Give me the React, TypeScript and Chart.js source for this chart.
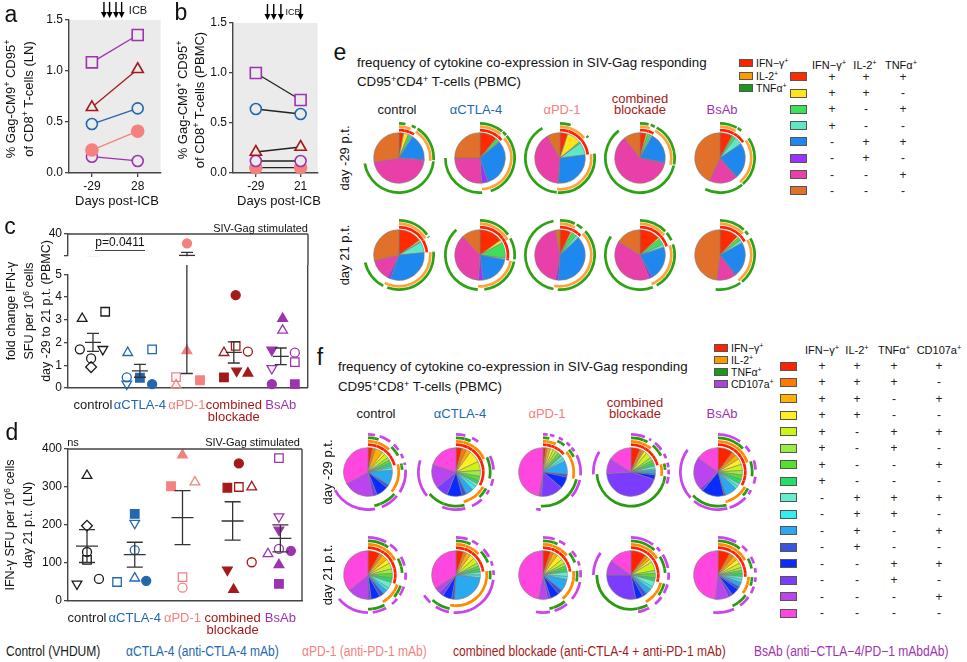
import React, { useEffect, useRef } from 'react';
import { Chart, registerables } from 'chart.js';

Chart.register(...registerables);

const FONT = '"Liberation Sans", Arial, Helvetica, sans-serif';
Chart.defaults.font.family = FONT;
Chart.defaults.color = '#111';

// ---------------- shared groups ----------------
const groupNames = ['control', 'αCTLA-4', 'αPD-1', 'combined blockade', 'BsAb'];
const groupColors = ['#1a1a1a', '#2368ad', '#f58080', '#a41a1a', '#9d33ae'];
const AXIS = '#444';

// ---------------- panel a (LN) ----------------
const aDays = [-29, 28];
const aBsAbSquare = [1.085, 1.353];
const aCombTriangle = [0.644, 1.017];
const aCtlaCircle = [0.48, 0.634];
const aPd1Circle = [0.225, 0.41];
const aBsAbCircle = [0.16, 0.118];
const icbDaysA = [-14, -7, 1, 8];

// ---------------- panel b (PBMC) ----------------
const bDays = [-29, 21];
const bBsAbSquare = [1.0, 0.73];
const bCtlaCircle = [0.64, 0.59];
const bCombTriangle = [0.21, 0.26];
const bBsAbCircle = [0.12, 0.12];
const bPd1Circle = [0.053, 0.053];
const icbDaysB = [-16, -9, -1, 21];
const abTicks = [0, 0.5, 1.0, 1.5];

// ---------------- panel c (fold change, PBMC) ----------------
// marks: c circle, s square, t triangle, v inverted triangle, d diamond; upper case = filled
const cGroupPos = [1, 2, 3, 4, 5];
const cControlVals = [3.05, 3.35, 1.7, 1.7, 1.3, 0.92];
const cControlMarks = ['t', 's', 'c', 'v', 'c', 'd'];
const cControlJit = [-0.23, 0.26, -0.28, 0.21, -0.04, -0.04];
const cCtlaVals = [1.55, 1.7, 0.47, 0.45, 0.18, 0.17];
const cCtlaMarks = ['t', 's', 'c', 'S', 'v', 'C'];
const cCtlaJit = [-0.26, 0.26, -0.28, 0, -0.28, 0.26];
const cPd1Vals = [25, 1.63, 0.48, 0.13, 0.34];
const cPd1Marks = ['C', 'T', 's', 't', 'S'];
const cPd1Jit = [0, 0, -0.23, -0.23, 0.28];
const cCombVals = [1.55, 1.85, 1.6, 4.08, 0.75, 0.65, 0.47];
const cCombMarks = ['t', 's', 'c', 'C', 'V', 'T', 'S'];
const cCombJit = [-0.21, 0.04, 0.3, 0.04, 0.06, 0.3, -0.21];
const cBsabVals = [3.05, 2.53, 1.67, 1.55, 1.14, 0.86, 0.17, 0.17];
const cBsabMarks = ['T', 't', 'V', 'c', 's', 'v', 'C', 'S'];
const cBsabJit = [0.04, 0.04, -0.19, 0.3, 0.3, -0.19, -0.19, 0.3];
const cBreak = 5;
const cUpperTicks = [5, 20, 40];
const cLowerTicks = [0, 1, 2, 3, 4, 5];

// ---------------- panel d (SFU, LN) ----------------
const dGroupPos = [1, 2, 3, 4.05, 5.05];
const dControlVals = [330, 198, 129, 108, 45, 58];
const dControlMarks = ['t', 'd', 'c', 's', 'v', 'c'];
const dControlJit = [0, 0, 0, 0, -0.21, 0.25];
const dCtlaVals = [229, 205, 134, 60, 50, 53];
const dCtlaMarks = ['S', 'v', 'c', 't', 's', 'C'];
const dCtlaJit = [0, 0, 0, 0, -0.37, 0.24];
const dPd1Vals = [384, 302, 313, 63, 35];
const dPd1Marks = ['T', 'S', 't', 's', 'c'];
const dPd1Jit = [0, -0.24, 0.26, 0, 0];
const dCombVals = [362, 298, 300, 300, 82, 102, 30];
const dCombMarks = ['C', 'S', 's', 't', 'V', 'c', 'T'];
const dCombJit = [0.13, -0.11, 0.13, 0.4, -0.11, 0.4, 0.02];
const dBsabVals = [376, 222, 187, 137, 132, 124, 95, 45];
const dBsabMarks = ['s', 'v', 'V', 'c', 'C', 't', 'T', 'S'];
const dBsabJit = [-0.03, -0.03, -0.03, -0.03, 0.22, -0.26, -0.03, -0.03];
const dTicks = [0, 100, 200, 300, 400];

// ---------------- panel e (CD4, 8 combinations) ----------------
const eColors = ['#ff2a00', '#ffe41c', '#3ee05a', '#5fe8c8', '#1f88ee', '#9a33ff', '#e83fa8', '#e0702a'];
const eIfn = [1, 1, 1, 1, 0, 0, 0, 0];
const eIl2 = [1, 1, 0, 0, 1, 1, 0, 0];
const eTnf = [1, 0, 1, 0, 1, 0, 1, 0];
const ePreControl = [3, 3, 2, 1, 17, 0.5, 46, 27.5];
const ePreCtla = [11, 0.5, 2, 0.5, 31, 4, 26, 25];
const ePrePd1 = [5, 9, 1, 8, 28, 0.5, 40, 8.5];
const ePreComb = [4, 1, 2, 1, 20, 0.5, 61, 10.5];
const ePreBsab = [8, 0.5, 2, 5, 23, 0.5, 18, 43];
const ePostControl = [15, 1, 0.5, 7, 32, 2, 14, 28.5];
const ePostCtla = [15, 2, 10, 1, 20, 3, 37, 12];
const ePostPd1 = [7, 1, 3, 2, 38, 2, 44, 3];
const ePostComb = [13, 1, 4, 2, 22, 2, 40, 16];
const ePostBsab = [12, 1, 2, 2, 22, 1, 12, 48];

// ---------------- panel f (CD8, 16 combinations) ----------------
const fColors = ['#ff2200', '#ff7a00', '#ffb000', '#ffee22', '#ccf514', '#99ee44', '#55e030', '#22dd66',
  '#66eecc', '#33eeee', '#2aa8f0', '#3a55dd', '#0a2cff', '#7c3cff', '#bb44ee', '#ff47e0'];
const fIfn = [1, 1, 1, 1, 1, 1, 1, 1, 0, 0, 0, 0, 0, 0, 0, 0];
const fIl2 = [1, 1, 1, 1, 0, 0, 0, 0, 1, 1, 1, 1, 0, 0, 0, 0];
const fTnf = [1, 1, 0, 0, 1, 1, 0, 0, 1, 1, 0, 0, 1, 1, 0, 0];
const fCd107 = [1, 0, 1, 0, 1, 0, 1, 0, 1, 0, 1, 0, 1, 0, 1, 0];
const fPreControl = [3, 2, 5, 2, 3, 2, 2, 2, 1, 2, 10, 2, 8, 3, 20, 33];
const fPreCtla = [4, 3, 3, 8, 6, 4, 3, 2, 2, 3, 5, 3, 10, 8, 16, 20];
const fPrePd1 = [2, 1, 2, 2, 2, 2, 2, 1, 2, 2, 9, 2, 8, 15, 2, 48];
const fPreComb = [6, 2, 1, 2, 4, 2, 2, 2, 2, 1, 2, 1, 3, 44, 10, 16];
const fPreBsab = [10, 3, 3, 4, 4, 3, 3, 3, 2, 2, 8, 1, 15, 2, 22, 15];
const fPostControl = [8, 2, 4, 3, 4, 3, 3, 3, 4, 2, 3, 3, 6, 2, 14, 36];
const fPostCtla = [5, 2, 3, 3, 4, 2, 2, 2, 2, 2, 24, 2, 6, 3, 4, 34];
const fPostPd1 = [5, 2, 3, 4, 3, 2, 2, 2, 3, 2, 8, 3, 6, 2, 6, 47];
const fPostComb = [10, 2, 2, 2, 6, 2, 3, 2, 4, 2, 4, 3, 5, 28, 10, 15];
const fPostBsab = [8, 3, 3, 3, 3, 2, 2, 2, 2, 2, 3, 2, 5, 3, 9, 48];

// ---------------- helpers ----------------
const baseOptions = (extra: any) => ({
  responsive: false,
  animation: false,
  devicePixelRatio: 1,
  events: [],
  plugins: { legend: { display: false }, tooltip: { enabled: false } },
  ...extra,
});

const yTickGrid = { display: true, drawOnChartArea: false, drawTicks: true, tickLength: 4, color: AXIS, lineWidth: 1.3 };
const axisBorder = { display: true, color: AXIS, width: 1.4 };

function markStyle(m: string) {
  const l = m.toLowerCase();
  if (l === 'c') return 'circle';
  if (l === 's') return 'rect';
  if (l === 'd') return 'rectRot';
  return 'triangle';
}
const MARK_R: Record<string, number> = { c: 4.5, s: 6, t: 5.6, v: 5.6, d: 5.4 };

function scatterDs(pos: number, vals: number[], marks: string[], jit: number[], color: string, keep: (v: number) => boolean, clip: any) {
  const idx = vals.map((_, i) => i).filter((i) => keep(vals[i]));
  return {
    data: idx.map((i) => ({ x: pos + jit[i], y: vals[i] })),
    pointStyle: idx.map((i) => markStyle(marks[i])),
    pointRotation: idx.map((i) => (marks[i].toLowerCase() === 'v' ? 180 : 0)),
    pointRadius: idx.map((i) => MARK_R[marks[i].toLowerCase()]),
    pointBackgroundColor: idx.map((i) => (marks[i] !== marks[i].toLowerCase() ? color : 'rgba(0,0,0,0)')),
    pointBorderColor: color,
    pointBorderWidth: 1.3,
    showLine: false,
    clip,
  };
}

function meanSem(v: number[]) {
  const n = v.length;
  const m = v.reduce((a, b) => a + b, 0) / n;
  const sd = Math.sqrt(v.reduce((a, b) => a + (b - m) * (b - m), 0) / (n - 1));
  return [m, sd / Math.sqrt(n)];
}

function errPlugin(positions: number[], groups: number[][], meanHalf: number, capHalf: number, topFromCanvas: boolean) {
  return {
    id: 'errbars',
    afterDatasetsDraw(chart: any) {
      const { ctx, chartArea: a, scales } = chart;
      const x = scales.x;
      const y = scales.y;
      ctx.save();
      ctx.beginPath();
      const top = topFromCanvas ? 0 : a.top;
      ctx.rect(a.left, top, a.right - a.left, a.bottom - top + 0.5);
      ctx.clip();
      ctx.strokeStyle = '#333';
      ctx.lineWidth = 1.3;
      groups.forEach((vals, i) => {
        const [m, se] = meanSem(vals);
        const px = x.getPixelForValue(positions[i]);
        const yM = y.getPixelForValue(m);
        const yH = y.getPixelForValue(m + se);
        const yL = y.getPixelForValue(m - se);
        ctx.beginPath();
        ctx.moveTo(px, yL);
        ctx.lineTo(px, yH);
        ctx.moveTo(px - capHalf, yH);
        ctx.lineTo(px + capHalf, yH);
        ctx.moveTo(px - capHalf, yL);
        ctx.lineTo(px + capHalf, yL);
        ctx.moveTo(px - meanHalf, yM);
        ctx.lineTo(px + meanHalf, yM);
        ctx.stroke();
      });
      ctx.restore();
    },
  };
}

function framePlugin(opts: { top?: boolean; rightFromCanvasTop?: boolean; rightToCanvasBottom?: boolean }) {
  return {
    id: 'frame',
    afterDraw(chart: any) {
      const { ctx, chartArea: a, height } = chart;
      ctx.save();
      ctx.strokeStyle = AXIS;
      ctx.lineWidth = 1.4;
      ctx.beginPath();
      if (opts.top) {
        ctx.moveTo(a.left, a.top);
        ctx.lineTo(a.right, a.top);
      }
      const y0 = opts.rightFromCanvasTop ? 0 : a.top;
      const y1 = opts.rightToCanvasBottom ? height : a.bottom;
      ctx.moveTo(a.right, y0);
      ctx.lineTo(a.right, y1);
      ctx.stroke();
      ctx.restore();
    },
  };
}

const bgPlugin = {
  id: 'graybg',
  beforeDraw(chart: any) {
    const { ctx, chartArea: a } = chart;
    ctx.save();
    ctx.fillStyle = '#ebebeb';
    ctx.fillRect(a.left, a.top, a.right - a.left, a.bottom - a.top);
    ctx.restore();
  },
};

function arrowPlugin(days: number[], y0: number, y1: number) {
  return {
    id: 'icb',
    afterDraw(chart: any) {
      const { ctx, scales } = chart;
      ctx.save();
      ctx.strokeStyle = '#000';
      ctx.fillStyle = '#000';
      ctx.lineWidth = 1.4;
      days.forEach((d) => {
        const px = scales.x.getPixelForValue(d);
        ctx.beginPath();
        ctx.moveTo(px, y0);
        ctx.lineTo(px, y1 - 5);
        ctx.stroke();
        ctx.beginPath();
        ctx.moveTo(px - 3, y1 - 6);
        ctx.lineTo(px + 3, y1 - 6);
        ctx.lineTo(px, y1);
        ctx.closePath();
        ctx.fill();
      });
      ctx.restore();
    },
  };
}

type Series = { vals: number[]; color: string; style: string; r: number; filled?: boolean };

function abConfig(days: number[], series: Series[], xMin: number, xMax: number, icb: number[], padTop: number, padRight: number, yAxisW: number, blackLines: boolean, arrowY: [number, number]) {
  return {
    type: 'line',
    data: {
      datasets: series.map((s) => ({
        data: s.vals.map((v, i) => ({ x: days[i], y: v })),
        borderColor: blackLines ? '#222' : s.color,
        borderWidth: 1.3,
        pointStyle: s.style,
        pointRadius: s.r,
        pointBackgroundColor: s.filled ? s.color : '#ebebeb',
        pointBorderColor: s.color,
        pointBorderWidth: 1.6,
        clip: false,
      })),
    },
    options: baseOptions({
      layout: { padding: { top: padTop, right: padRight, left: 0, bottom: 0 } },
      scales: {
        x: {
          type: 'linear', min: xMin, max: xMax,
          afterBuildTicks: (s: any) => { s.ticks = days.map((v) => ({ value: v })); },
          afterFit: (s: any) => { s.height = 22; },
          ticks: { font: { size: 12 }, padding: 2, callback: (v: any) => String(v), color: '#111' },
          grid: yTickGrid, border: axisBorder,
        },
        y: {
          min: 0, max: 1.5,
          afterBuildTicks: (s: any) => { s.ticks = abTicks.map((v) => ({ value: v })); },
          afterFit: (s: any) => { s.width = yAxisW; },
          ticks: { font: { size: 12 }, padding: 2, callback: (v: any) => Number(v).toFixed(1), color: '#111' },
          grid: yTickGrid, border: axisBorder,
        },
      },
    }),
    plugins: [bgPlugin, arrowPlugin(icb, arrowY[0], arrowY[1])],
  };
}

const PURPLE = groupColors[4];
const makeA = (c: HTMLCanvasElement) => new Chart(c, abConfig(aDays, [
  { vals: aBsAbSquare, color: PURPLE, style: 'rect', r: 7.8 },
  { vals: aCombTriangle, color: groupColors[3], style: 'triangle', r: 6.5 },
  { vals: aCtlaCircle, color: groupColors[1], style: 'circle', r: 5.5 },
  { vals: aPd1Circle, color: groupColors[2], style: 'circle', r: 6, filled: true },
  { vals: aBsAbCircle, color: PURPLE, style: 'circle', r: 5.5 },
], -57.5, 56.5, icbDaysA, 20, 4.4, 69, false, [2, 18]) as any);

const makeB = (c: HTMLCanvasElement) => new Chart(c, abConfig(bDays, [
  { vals: bBsAbSquare, color: PURPLE, style: 'rect', r: 7.8 },
  { vals: bCtlaCircle, color: groupColors[1], style: 'circle', r: 5.5 },
  { vals: bCombTriangle, color: groupColors[3], style: 'triangle', r: 6.5 },
  { vals: bBsAbCircle, color: PURPLE, style: 'circle', r: 5.5 },
  { vals: bPd1Circle, color: groupColors[2], style: 'circle', r: 6, filled: true },
], -54.5, 40, icbDaysB, 23, 5, 63, true, [4, 20]) as any);

const cSets = [
  [cControlVals, cControlMarks, cControlJit],
  [cCtlaVals, cCtlaMarks, cCtlaJit],
  [cPd1Vals, cPd1Marks, cPd1Jit],
  [cCombVals, cCombMarks, cCombJit],
  [cBsabVals, cBsabMarks, cBsabJit],
] as [number[], string[], number[]][];
const dSets = [
  [dControlVals, dControlMarks, dControlJit],
  [dCtlaVals, dCtlaMarks, dCtlaJit],
  [dPd1Vals, dPd1Marks, dPd1Jit],
  [dCombVals, dCombMarks, dCombJit],
  [dBsabVals, dBsabMarks, dBsabJit],
] as [number[], string[], number[]][];

const C_XMIN = 0.468, C_XMAX = 5.574;
const D_XMIN = 0.602, D_XMAX = 5.503;

const groupLabel = (i: number) => (groupNames[i].includes(' ') ? groupNames[i].split(' ') : groupNames[i]);

function catAxis(pos: number[], min: number, max: number, h: number) {
  return {
    type: 'linear', min, max,
    afterBuildTicks: (s: any) => { s.ticks = pos.map((v) => ({ value: v })); },
    afterFit: (s: any) => { s.height = h; },
    ticks: {
      autoSkip: false, maxRotation: 0, minRotation: 0, padding: 3,
      font: { size: 13, lineHeight: 0.95 }, color: (ctx: any) => groupColors[ctx.index] || '#111',
      callback: (_v: any, i: number) => groupLabel(i),
    },
    grid: { display: false },
    border: axisBorder,
  };
}

const makeCUpper = (c: HTMLCanvasElement) => new Chart(c, {
  type: 'scatter',
  data: { datasets: cSets.map(([v, m, j], i) => scatterDs(cGroupPos[i], v, m, j, groupColors[i], (x) => x > cBreak, { left: 20, right: 20, top: 10, bottom: 0 })) },
  options: baseOptions({
    layout: { padding: { top: 12, right: 7, left: 0, bottom: 0 } },
    scales: {
      x: { type: 'linear', min: C_XMIN, max: C_XMAX, display: false },
      y: {
        min: cBreak, max: 40,
        afterBuildTicks: (s: any) => { s.ticks = cUpperTicks.map((v) => ({ value: v })); },
        afterFit: (s: any) => { s.width = 68; },
        ticks: { font: { size: 12 }, padding: 2, callback: (v: any) => (v === cBreak ? '' : String(v)), color: '#111' },
        grid: yTickGrid, border: axisBorder,
      },
    },
  }),
  plugins: [errPlugin(cGroupPos, cSets.map((s) => s[0]), 8, 6, false), framePlugin({ top: true, rightToCanvasBottom: true })],
} as any);

const makeCLower = (c: HTMLCanvasElement) => new Chart(c, {
  type: 'scatter',
  data: { datasets: cSets.map(([v, m, j], i) => scatterDs(cGroupPos[i], v, m, j, groupColors[i], (x) => x <= cBreak, { left: 20, right: 20, top: 0, bottom: 10 })) },
  options: baseOptions({
    layout: { padding: { top: 7, right: 7, left: 0, bottom: 0 } },
    scales: {
      x: catAxis(cGroupPos, C_XMIN, C_XMAX, 37),
      y: {
        min: 0, max: 5,
        afterBuildTicks: (s: any) => { s.ticks = cLowerTicks.map((v) => ({ value: v })); },
        afterFit: (s: any) => { s.width = 68; },
        ticks: { font: { size: 12 }, padding: 2, color: '#111' },
        grid: yTickGrid, border: axisBorder,
      },
    },
  }),
  plugins: [errPlugin(cGroupPos, cSets.map((s) => s[0]), 8, 6, true), framePlugin({ rightFromCanvasTop: true })],
} as any);

const makeD = (c: HTMLCanvasElement) => new Chart(c, {
  type: 'scatter',
  data: { datasets: dSets.map(([v, m, j], i) => scatterDs(dGroupPos[i], v, m, j, groupColors[i], () => true, { left: 20, right: 20, top: 10, bottom: 10 })) },
  options: baseOptions({
    layout: { padding: { top: 12, right: 8, left: 0, bottom: 0 } },
    scales: {
      x: catAxis(dGroupPos, D_XMIN, D_XMAX, 41),
      y: {
        min: 0, max: 400,
        afterBuildTicks: (s: any) => { s.ticks = dTicks.map((v) => ({ value: v })); },
        afterFit: (s: any) => { s.width = 68; },
        ticks: { font: { size: 12 }, padding: 2, color: '#111' },
        grid: yTickGrid, border: axisBorder,
      },
    },
  }),
  plugins: [errPlugin(dGroupPos, dSets.map((s) => s[0]), 11, 8, false), framePlugin({ top: true })],
} as any);

// ---------------- pies ----------------
type Ring = { flags: number[]; color: string };
const CLEAR = 'rgba(0,0,0,0)';

function pieTotal(pieR: number, innerGap: number, ringW: number, ringGap: number, n: number) {
  return pieR + innerGap + n * ringW + (n - 1) * ringGap;
}

function makePie(values: number[], colors: string[], rings: Ring[], pieR: number, innerGap: number, ringW: number, ringGap: number) {
  return (c: HTMLCanvasElement) => {
    const datasets: any[] = [];
    const outerFirst = [...rings].reverse();
    outerFirst.forEach((r, i) => {
      if (i > 0) datasets.push({ data: values, backgroundColor: CLEAR, borderWidth: 0, weight: ringGap, hoverOffset: 0 });
      datasets.push({
        data: values,
        backgroundColor: values.map((_, j) => (r.flags[j] ? r.color : CLEAR)),
        borderWidth: 0, weight: ringW, hoverOffset: 0,
      });
    });
    datasets.push({ data: values, backgroundColor: CLEAR, borderWidth: 0, weight: innerGap, hoverOffset: 0 });
    datasets.push({ data: values, backgroundColor: colors, borderColor: '#7d7d7d', borderWidth: 0.6, weight: pieR, hoverOffset: 0 });
    return new Chart(c, { type: 'pie', data: { datasets }, options: baseOptions({ layout: { padding: 0 } }) } as any);
  };
}

const eRings: Ring[] = [
  { flags: eIfn, color: '#ff2200' },
  { flags: eIl2, color: '#ffa23a' },
  { flags: eTnf, color: '#2ca312' },
];
const fRings: Ring[] = [
  { flags: fIfn, color: '#ff2200' },
  { flags: fIl2, color: '#ff8a00' },
  { flags: fTnf, color: '#2a9a10' },
  { flags: fCd107, color: '#cc44ee' },
];
const E_GEOM = [25, 1.3, 2.7, 0.6] as const;
const F_GEOM = [24, 1.5, 2.7, 0.7] as const;

const ePies = [
  [ePreControl, ePreCtla, ePrePd1, ePreComb, ePreBsab],
  [ePostControl, ePostCtla, ePostPd1, ePostComb, ePostBsab],
];
const fPies = [
  [fPreControl, fPreCtla, fPrePd1, fPreComb, fPreBsab],
  [fPostControl, fPostCtla, fPostPd1, fPostComb, fPostBsab],
];
const ePieX = [399, 480, 560, 640, 720];
const ePieY = [158, 255];
const fPieX = [368, 456, 543, 631, 718];
const fPieY = [472, 575];

// ---------------- components ----------------
function ChartBox({ x, y, w, h, make }: { x: number; y: number; w: number; h: number; make: (c: HTMLCanvasElement) => Chart }) {
  const ref = useRef<HTMLCanvasElement>(null);
  useEffect(() => {
    const ch = make(ref.current as HTMLCanvasElement);
    return () => ch.destroy();
  }, []);
  return <canvas ref={ref} width={w} height={h} style={{ position: 'absolute', left: x, top: y, width: w, height: h }} />;
}

function Txt({ x, y, size = 12, color = '#111', rot = 0, align = 'center', children, style }: any) {
  const tx = align === 'center' ? '-50%' : align === 'right' ? '-100%' : '0';
  return (
    <div style={{
      position: 'absolute', left: x, top: y, fontSize: size, color, whiteSpace: 'nowrap', lineHeight: 1,
      transform: `translate(${tx}, -50%)${rot ? ` rotate(${rot}deg)` : ''}`, ...style,
    }}>{children}</div>
  );
}

const Sup = ({ children }: any) => <sup style={{ fontSize: '0.68em', verticalAlign: '0.5em', lineHeight: 0 }}>{children}</sup>;

function Swatch({ x, y, w, h, color }: any) {
  return <div style={{ position: 'absolute', left: x, top: y - h / 2, width: w, height: h, background: color, border: '1px solid #555', boxSizing: 'border-box' }} />;
}

function SignTable({ colors, flags, colX, y0, dy, swX }: any) {
  return (
    <>
      {colors.map((c: string, i: number) => (
        <React.Fragment key={i}>
          <Swatch x={swX} y={y0 + i * dy} w={17} h={9} color={c} />
          {flags.map((f: number[], j: number) => (
            <Txt key={j} x={colX[j]} y={y0 + i * dy} size={12} color="#222">{f[i] ? '+' : '-'}</Txt>
          ))}
        </React.Fragment>
      ))}
    </>
  );
}

function GroupHeaders({ xs, y, size = 13 }: any) {
  return (
    <>
      {groupNames.map((g, i) =>
        g.includes(' ') ? (
          <React.Fragment key={i}>
            <Txt x={xs[i]} y={y - 11} size={size} color={groupColors[i]}>{g.split(' ')[0]}</Txt>
            <Txt x={xs[i]} y={y} size={size} color={groupColors[i]}>{g.split(' ')[1]}</Txt>
          </React.Fragment>
        ) : (
          <Txt key={i} x={xs[i]} y={y} size={size} color={groupColors[i]}>{g}</Txt>
        ),
      )}
    </>
  );
}

export default function App() {
  const eTot = pieTotal(E_GEOM[0], E_GEOM[1], E_GEOM[2], E_GEOM[3], 3);
  const fTot = pieTotal(F_GEOM[0], F_GEOM[1], F_GEOM[2], F_GEOM[3], 4);
  const eS = Math.round(2 * eTot + 1);
  const fS = Math.round(2 * fTot + 1);
  return (
    <div style={{ position: 'relative', width: 967, height: 662, background: '#fff', fontFamily: FONT, color: '#111', overflow: 'hidden' }}>
      <style>{'body{margin:0;}'}</style>

      {/* charts */}
      <ChartBox x={0} y={0} w={170} h={195} make={makeA} />
      <ChartBox x={170} y={0} w={157} h={195} make={makeB} />
      <ChartBox x={0} y={222} w={315} h={43} make={makeCUpper} />
      <ChartBox x={0} y={265} w={315} h={160} make={makeCLower} />
      <ChartBox x={0} y={437} w={310} h={205} make={makeD} />
      {ePies.map((row, r) => row.map((vals, i) => (
        <ChartBox key={`e${r}${i}`} x={ePieX[i] - eS / 2} y={ePieY[r] - eS / 2} w={eS} h={eS}
          make={makePie(vals, eColors, eRings, E_GEOM[0], E_GEOM[1], E_GEOM[2], E_GEOM[3])} />
      )))}
      {fPies.map((row, r) => row.map((vals, i) => (
        <ChartBox key={`f${r}${i}`} x={fPieX[i] - fS / 2} y={fPieY[r] - fS / 2} w={fS} h={fS}
          make={makePie(vals, fColors, fRings, F_GEOM[0], F_GEOM[1], F_GEOM[2], F_GEOM[3])} />
      )))}

      {/* panel letters */}
      <Txt x={11} y={14} size={23}>a</Txt>
      <Txt x={181} y={12} size={23}>b</Txt>
      <Txt x={10} y={226} size={23}>c</Txt>
      <Txt x={12} y={432} size={23}>d</Txt>
      <Txt x={340} y={52} size={23}>e</Txt>
      <Txt x={320} y={357} size={23}>f</Txt>

      {/* panel a/b texts */}
      <Txt x={138} y={10} size={11}>ICB</Txt>
      <Txt x={293} y={12} size={9}>ICB</Txt>
      <Txt x={10} y={99} size={13} rot={-90}>% Gag-CM9<Sup>+</Sup> CD95<Sup>+</Sup></Txt>
      <Txt x={28} y={99} size={13} rot={-90}>of CD8<Sup>+</Sup> T-cells (LN)</Txt>
      <Txt x={182} y={100} size={13} rot={-90}>% Gag-CM9<Sup>+</Sup> CD95<Sup>+</Sup></Txt>
      <Txt x={199} y={100} size={13} rot={-90}>of CD8<Sup>+</Sup> T-cells (PBMC)</Txt>
      <Txt x={117} y={200} size={13}>Days post-ICB</Txt>
      <Txt x={279} y={200} size={13}>Days post-ICB</Txt>

      {/* panel c texts */}
      <Txt x={308} y={228} size={11} align="right">SIV-Gag stimulated</Txt>
      <div style={{ position: 'absolute', left: 95, top: 249.5, width: 50, height: 1.5, background: '#444' }} />
      <Txt x={120} y={242} size={12}>p=0.0411</Txt>
      <Txt x={11} y={311} size={12.5} rot={-90}>fold change IFN-γ</Txt>
      <Txt x={29} y={311} size={12.5} rot={-90}>SFU per 10<Sup>6</Sup> cells</Txt>
      <Txt x={46} y={311} size={12.5} rot={-90}>day -29 to 21 p.t. (PBMC)</Txt>

      {/* panel d texts */}
      <Txt x={73} y={442} size={11}>ns</Txt>
      <Txt x={300} y={442} size={11} align="right">SIV-Gag stimulated</Txt>
      <Txt x={10} y={525} size={12.5} rot={-90}>IFN-γ SFU per 10<Sup>6</Sup> cells</Txt>
      <Txt x={28} y={525} size={12.5} rot={-90}>day 21 p.t. (LN)</Txt>

      {/* panel e texts */}
      <Txt x={357} y={63} size={13.3} align="left">frequency of cytokine co-expression in SIV-Gag responding</Txt>
      <Txt x={357} y={82} size={13.3} align="left">CD95<Sup>+</Sup>CD4<Sup>+</Sup> T-cells (PBMC)</Txt>
      <GroupHeaders xs={[397, 476, 562, 640, 722]} y={109} />
      <Txt x={344} y={158} size={13} rot={-90}>day -29 p.t.</Txt>
      <Txt x={344} y={255} size={13} rot={-90}>day 21 p.t.</Txt>
      <Swatch x={739} y={63} w={14} h={8} color="#ff2200" />
      <Swatch x={739} y={75.5} w={14} h={8} color="#ff9900" />
      <Swatch x={739} y={88} w={14} h={8} color="#1a991a" />
      <Txt x={756} y={63} size={10.5} align="left">IFN−γ<Sup>+</Sup></Txt>
      <Txt x={756} y={75.5} size={10.5} align="left">IL-2<Sup>+</Sup></Txt>
      <Txt x={756} y={88} size={10.5} align="left">TNFα<Sup>+</Sup></Txt>
      <Txt x={829} y={65} size={11}>IFN−γ<Sup>+</Sup></Txt>
      <Txt x={865} y={65} size={11}>IL-2<Sup>+</Sup></Txt>
      <Txt x={901} y={65} size={11}>TNFα<Sup>+</Sup></Txt>
      <SignTable colors={eColors} flags={[eIfn, eIl2, eTnf]} colX={[832, 866, 903]} y0={76.7} dy={16.3} swX={790} />

      {/* panel f texts */}
      <Txt x={338} y={367} size={13.3} align="left">frequency of cytokine co-expression in SIV-Gag responding</Txt>
      <Txt x={338} y={387} size={13.3} align="left">CD95<Sup>+</Sup>CD8<Sup>+</Sup> T-cells (PBMC)</Txt>
      <GroupHeaders xs={[376, 460, 547, 635, 722]} y={413} />
      <Txt x={327} y={472} size={13} rot={-90}>day -29 p.t.</Txt>
      <Txt x={327} y={575} size={13} rot={-90}>day 21 p.t.</Txt>
      <Swatch x={714} y={348} w={14} h={8} color="#ff2200" />
      <Swatch x={714} y={360} w={14} h={8} color="#ff9900" />
      <Swatch x={714} y={372} w={14} h={8} color="#1a991a" />
      <Swatch x={714} y={384} w={14} h={8} color="#aa44dd" />
      <Txt x={731} y={348} size={10.5} align="left">IFN−γ<Sup>+</Sup></Txt>
      <Txt x={731} y={360} size={10.5} align="left">IL-2<Sup>+</Sup></Txt>
      <Txt x={731} y={372} size={10.5} align="left">TNFα<Sup>+</Sup></Txt>
      <Txt x={731} y={384} size={10.5} align="left">CD107a<Sup>+</Sup></Txt>
      <Txt x={822} y={350} size={11}>IFN−γ<Sup>+</Sup></Txt>
      <Txt x={857} y={350} size={11}>IL-2<Sup>+</Sup></Txt>
      <Txt x={894} y={350} size={11}>TNFα<Sup>+</Sup></Txt>
      <Txt x={939} y={350} size={11}>CD107a<Sup>+</Sup></Txt>
      <SignTable colors={fColors} flags={[fIfn, fIl2, fTnf, fCd107]} colX={[822, 857, 894, 939]} y0={366} dy={16.47} swX={780} />

      {/* bottom legend */}
      {[
        ['Control (VHDUM)', 6],
        ['αCTLA-4 (anti-CTLA-4 mAb)', 126],
        ['αPD-1 (anti-PD-1 mAb)', 302],
        ['combined blockade (anti-CTLA-4 + anti-PD-1 mAb)', 453],
        ['BsAb (anti−CTLA−4/PD−1 mAbdAb)', 754],
      ].map(([t, x], i) => (
        <div key={i} style={{ position: 'absolute', left: x as number, top: 644, fontSize: 14, color: groupColors[i], whiteSpace: 'nowrap', lineHeight: 1, transform: 'scaleX(0.86)', transformOrigin: 'left center' }}>{t}</div>
      ))}
    </div>
  );
}
